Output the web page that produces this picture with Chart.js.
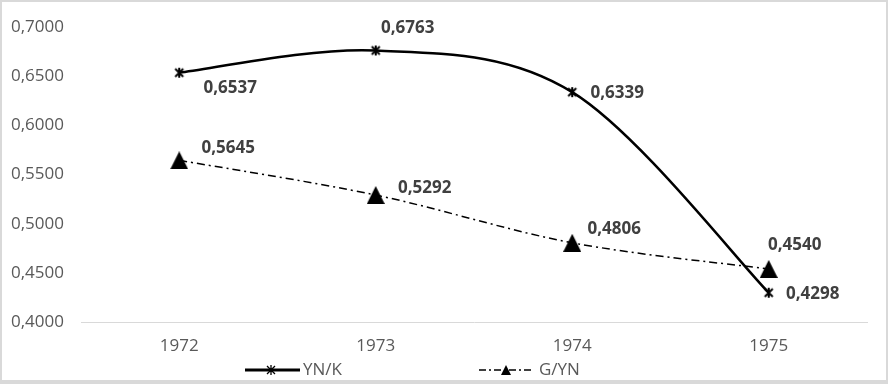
<!DOCTYPE html>
<html>
<head>
<meta charset="utf-8">
<script src="https://cdn.jsdelivr.net/npm/chart.js@4"></script>
<style>
  html, body { margin: 0; padding: 0; background: #fff; }
  #wrap { position: absolute; left: 0; top: 0; width: 888px; height: 384px; }
</style>
</head>
<body>
<div id="wrap"><canvas id="lineChart"></canvas></div>
<script>
const years = ["1972", "1973", "1974", "1975"];
const ynK = [0.6537, 0.6763, 0.6339, 0.4298];
const gYN = [0.5645, 0.5292, 0.4806, 0.4540];
const yTicks = [0.4, 0.45, 0.5, 0.55, 0.6, 0.65, 0.7];

// where each value label sits relative to its point
const ynKLabelShift = [[51, 15], [32, -22], [45, 1], [44, 1]];
const gYNLabelShift = [[49, -12], [49, -7], [42, -14], [26, -24]];

const fontFamily = "'Open Sans', 'Liberation Sans', sans-serif";
const fmt = (v) => v.toFixed(4).replace(".", ",");

// excel-like asterisk marker
function starMarker(size, lw) {
  const c = document.createElement("canvas");
  c.width = size;
  c.height = size;
  const g = c.getContext("2d");
  const m = size / 2, r = size / 2 - 1;
  g.strokeStyle = "#000";
  g.lineWidth = lw;
  g.beginPath();
  g.moveTo(m - r * 0.8, m - r * 0.8); g.lineTo(m + r * 0.8, m + r * 0.8);
  g.moveTo(m + r * 0.8, m - r * 0.8); g.lineTo(m - r * 0.8, m + r * 0.8);
  g.moveTo(m, m - r); g.lineTo(m, m + r);
  g.stroke();
  return c;
}

// triangle centred on its bounding box, like excel
function triangleMarker(w, h) {
  const c = document.createElement("canvas");
  c.width = w;
  c.height = h;
  const g = c.getContext("2d");
  g.fillStyle = "#000";
  g.beginPath();
  g.moveTo(w / 2, 0); g.lineTo(w, h); g.lineTo(0, h);
  g.closePath();
  g.fill();
  return c;
}

const star = starMarker(12, 2);
const starSmall = starMarker(12, 1.3);
const tri = triangleMarker(18, 18);
const triSmall = triangleMarker(10, 10);

// excel style smoothing: tangent = (next - prev) / 6
const excelSmooth = {
  id: "excelSmooth",
  beforeDatasetDraw(chart, args) {
    const line = args.meta.dataset;
    const pts = args.meta.data;
    const k = 1 / 6;
    pts.forEach((p, i) => {
      const prev = pts[Math.max(i - 1, 0)];
      const next = pts[Math.min(i + 1, pts.length - 1)];
      const tx = (next.x - prev.x) * k;
      const ty = (next.y - prev.y) * k;
      p.cp1x = p.x - tx; p.cp1y = p.y - ty;
      p.cp2x = p.x + tx; p.cp2y = p.y + ty;
    });
    line._pointsUpdated = true;
    delete line._path;
  },
};

const valueLabels = {
  id: "valueLabels",
  afterDatasetsDraw(chart) {
    const ctx = chart.ctx;
    const shifts = [ynKLabelShift, gYNLabelShift];
    ctx.save();
    ctx.font = "bold 17px " + fontFamily;
    ctx.fillStyle = "#404040";
    ctx.textAlign = "center";
    ctx.textBaseline = "middle";
    chart.data.datasets.forEach((ds, i) => {
      chart.getDatasetMeta(i).data.forEach((pt, j) => {
        const s = shifts[i][j];
        ctx.fillText(fmt(ds.data[j]), pt.x + s[0], pt.y + s[1]);
      });
    });
    ctx.restore();
  },
};

const legendAndFrame = {
  id: "legendAndFrame",
  afterDraw(chart) {
    const ctx = chart.ctx;
    const y = 370;
    ctx.save();
    // frame
    ctx.strokeStyle = "#d9d9d9";
    ctx.lineWidth = 2;
    ctx.strokeRect(1, 1, chart.width - 2, chart.height - 2);
    ctx.fillStyle = "#d9d9d9";
    ctx.fillRect(0, chart.height - 4, chart.width, 4);

    ctx.font = "17px " + fontFamily;
    ctx.fillStyle = "#595959";
    ctx.textBaseline = "middle";
    ctx.textAlign = "left";

    // YN/K entry
    ctx.strokeStyle = "#000";
    ctx.lineWidth = 3;
    ctx.beginPath();
    ctx.moveTo(245, y); ctx.lineTo(300, y);
    ctx.stroke();
    ctx.drawImage(starSmall, 271 - 6, y - 6);
    ctx.fillText(chart.data.datasets[0].label, 303, y);

    // G/YN entry
    ctx.lineWidth = 1.5;
    ctx.setLineDash([7, 3, 2, 3]);
    ctx.beginPath();
    ctx.moveTo(479, y); ctx.lineTo(532, y);
    ctx.stroke();
    ctx.setLineDash([]);
    ctx.drawImage(triSmall, 506 - 5, y - 5);
    ctx.fillText(chart.data.datasets[1].label, 539, y);
    ctx.restore();
  },
};

const data = {
  labels: years,
  datasets: [
    {
      label: "YN/K",
      data: ynK,
      borderColor: "#000",
      backgroundColor: "#000",
      borderWidth: 2.5,
      pointStyle: star,
      tension: 0.4,
      fill: false,
    },
    {
      label: "G/YN",
      data: gYN,
      borderColor: "#000",
      backgroundColor: "#000",
      borderWidth: 1.5,
      borderDash: [8, 4, 2, 4],
      pointStyle: tri,
      tension: 0.4,
      fill: false,
    },
  ],
};

const config = {
  type: "line",
  data: data,
  options: {
    responsive: true,
    maintainAspectRatio: false,
    animation: false,
    layout: { padding: { top: 26, right: 21, left: 0, bottom: 0 } },
    plugins: {
      legend: { display: false },
      tooltip: { enabled: false },
    },
    scales: {
      x: {
        offset: true,
        grid: { display: false, drawTicks: false },
        border: { display: true, color: "#d9d9d9", width: 1 },
        ticks: { color: "#595959", font: { family: fontFamily, size: 17 }, padding: 14 },
        afterFit(scale) { scale.height = 62; },
      },
      y: {
        min: 0.4,
        max: 0.7,
        grid: { display: false, drawTicks: false },
        border: { display: false },
        afterBuildTicks(scale) { scale.ticks = yTicks.map((v) => ({ value: v })); },
        ticks: {
          color: "#595959",
          font: { family: fontFamily, size: 17 },
          padding: 17,
          callback: (v) => fmt(v),
        },
        afterFit(scale) { scale.width = 81; },
      },
    },
  },
  plugins: [excelSmooth, valueLabels, legendAndFrame],
};

new Chart(document.getElementById("lineChart"), config);
</script>
</body>
</html>
